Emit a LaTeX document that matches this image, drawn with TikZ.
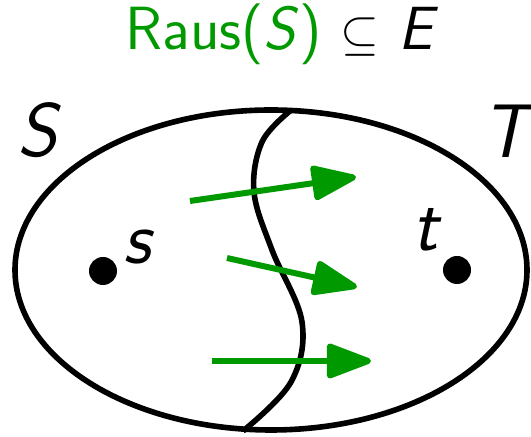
\documentclass[tikz,border=0pt]{standalone}
\usepackage{fontspec}
\usepackage{tikz}
\usetikzlibrary{arrows.meta, positioning}
\definecolor{cutgreen}{RGB}{0,153,0}

\begin{document}
\begin{tikzpicture}[
  x=0.5pt, y=-0.5pt,
  set/.style={draw, line width=2.8pt},
  cutline/.style={line width=2.8pt},
  dot/.style={circle, fill, inner sep=0pt, minimum size=14pt},
  vlbl/.style={font=\sffamily\itshape\fontsize{38}{40}\selectfont, inner sep=0pt},
  outedge/.style={-{Triangle[length=25pt, width=18pt, round]}, cutgreen, line width=3pt},
]
  \useasboundingbox (0,0) rectangle (531,437);

  % the graph and the cut
  \draw[set] (271,270) ellipse [x radius=256, y radius=160];
  \draw[cutline] plot[smooth, tension=0.6] coordinates
    {(290,111) (262,142) (254,192) (272,250) (302,322) (291,382) (243,431)};

  % title
  \node[font=\sffamily\fontsize{30.5}{34}\selectfont, inner sep=0pt] (title) at (282,34)
    {\textcolor{cutgreen}{Raus(\textit{S})} $\subseteq$ \textit{E}};

  % sides
  \node[vlbl] (S) at (37,130) {S};
  \node[vlbl] (T) at (506,131) {T};

  % terminals
  \node[dot] (s) at (103,271) {};
  \node[dot] (t) at (457,270) {};
  \node[vlbl, above right=-2pt and 5pt of s] (slbl) {s};
  \node[vlbl, above left=4pt and 4pt of t] (tlbl) {t};

  % edges leaving S
  \coordinate (e1a) at (190,201);
  \coordinate (e1b) at (356,177);
  \coordinate (e2a) at (227,258);
  \coordinate (e2b) at (357,287);
  \coordinate (e3a) at (212,361);
  \coordinate (e3b) at (371,361);
  \draw[outedge] (e1a) -- (e1b);
  \draw[outedge] (e2a) -- (e2b);
  \draw[outedge] (e3a) -- (e3b);
\end{tikzpicture}
\end{document}
